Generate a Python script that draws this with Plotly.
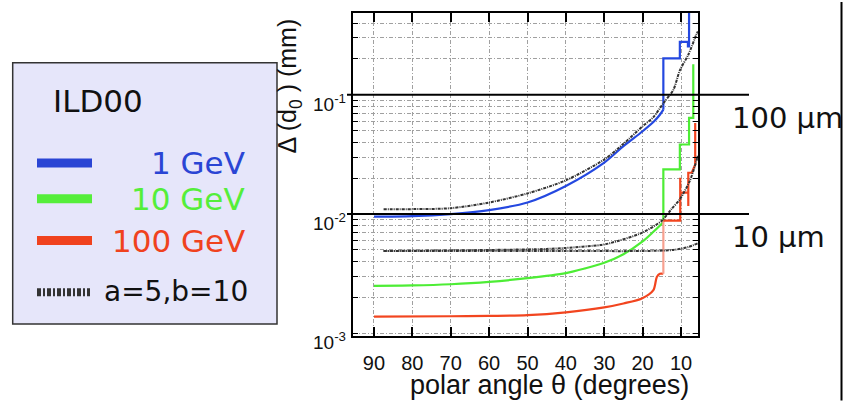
import plotly.graph_objects as go

# ---- data: impact-parameter resolution vs polar angle (ILD00) ----
blue_theta = [90, 80, 70, 60, 50, 40, 30, 25, 20, 17.0, 15.5, 14.6, 14.6, 10.3, 10.3, 8.2, 8.2, 7.9, 7.9]
blue_d0 = [0.0095, 0.0096, 0.0100, 0.0108, 0.0125, 0.0172, 0.0270, 0.0371, 0.0495, 0.060, 0.068, 0.075,
           0.202, 0.202, 0.278, 0.278, 0.255, 0.255, 0.6]
blue_knee = 11

green_theta = [90, 80, 70, 60, 50, 40, 35, 30, 25, 20, 17.2, 15.0, 14.6, 14.6, 10.3, 10.3,
               7.9, 7.9, 6.8, 6.8]
green_d0 = [0.0025, 0.00252, 0.00258, 0.0027, 0.0029, 0.0032, 0.0035, 0.0039, 0.0046, 0.0059,
            0.0071, 0.0083, 0.0086, 0.0237, 0.0237, 0.0383, 0.0383, 0.064, 0.064, 0.18]
green_knee = 12

red_theta = [90, 70, 60, 50, 40, 30, 25, 20.2, 17.2, 16.3, 15.5, 14.6, 14.6, 10.2, 10.2, 10.2, 8.1,
             8.1, 8.1, 7.2, 6.3, 6.3]
red_d0 = [0.00138, 0.00139, 0.0014, 0.00142, 0.0015, 0.00165, 0.00178, 0.00196, 0.0023, 0.00297,
          0.00316, 0.00316, 0.0088, 0.0088, 0.0202, 0.0151, 0.0151, 0.0117, 0.0222, 0.0222, 0.026, 0.058]
red_knee = 11

# parametrisation a=5, b=10 for 1, 10 and 100 GeV
fit1_theta = [87.5, 80, 70, 60, 50, 40, 30, 25, 20, 17.2, 14.6, 12.0, 10.3, 8.0, 6.0, 5.6]
fit1_d0 = [0.0110, 0.0110, 0.0112, 0.0125, 0.0149, 0.0192, 0.0287, 0.0388, 0.0545, 0.065, 0.085,
           0.11, 0.16, 0.22, 0.32, 0.34]
fit10_theta = [87.5, 60, 45, 40, 31, 28.5, 20, 15, 12.5, 10.3, 7.7, 6.0, 5.6]
fit10_d0 = [0.0049, 0.0050, 0.0051, 0.0052, 0.0055, 0.0057, 0.0070, 0.0088, 0.011, 0.0133, 0.019,
            0.0278, 0.031]
fit100_theta = [87.5, 60, 40, 20, 12, 8, 5.6]
fit100_d0 = [0.0049, 0.0049, 0.0049, 0.0049, 0.0050, 0.0053, 0.0057]

x_ticks = [90, 80, 70, 60, 50, 40, 30, 20, 10]
y_decades = [-3, -2, -1]
y_minor = [m * 10 ** e for e in (-3, -2, -1) for m in range(1, 10) if m * 10 ** e <= 0.5]

legend_labels = ["1 GeV", "10 GeV", "100 GeV"]
legend_colors = ["#2a45d4", "#55ee3a", "#f0421e"]
line_colors = ["#2448e0", "#4ded35", "#f2451f"]
fit_label = "a=5,b=10"
ref_levels = [-1, -2]
ref_labels = ["100 \u00b5m", "10 \u00b5m"]

X_RANGE = [95.47, 5.57]
Y_RANGE = [-3.0225, -0.314]

# ---- layout geometry (pixels) ----
W, H = 844, 401
L, R, T, B = 353, 146, 11, 65
PW, PH = W - L - R, H - T - B


def px(x):
    return (x - L) / PW


def py(y):
    return 1 - (y - T) / PH


def ylog_paper(e):
    # paper fraction of a log10 value on the y axis
    return (e - Y_RANGE[0]) / (Y_RANGE[1] - Y_RANGE[0])


SANS = "Liberation Sans"
DJV = "DejaVu Sans"

fig = go.Figure()


def add_line(x, y, color, shape="linear", width=2.2, dash=None):
    fig.add_trace(go.Scatter(x=x, y=y, mode="lines",
                             line=dict(color=color, width=width, shape=shape, dash=dash,
                                       smoothing=0.8 if shape == "spline" else None),
                             showlegend=False, hoverinfo="skip"))


# smooth part of each curve, then the stepped forward region
for th, d, k, c in [(blue_theta, blue_d0, blue_knee, line_colors[0]),
                    (green_theta, green_d0, green_knee, line_colors[1])]:
    add_line(th[:k + 1], d[:k + 1], c, "spline")
    add_line(th[k:], d[k:], c)
add_line(red_theta[:red_knee + 1], red_d0[:red_knee + 1], line_colors[2], "spline")
add_line(red_theta[red_knee:red_knee + 2], red_d0[red_knee:red_knee + 2], "#f7a08f")
add_line(red_theta[red_knee + 1:], red_d0[red_knee + 1:], line_colors[2])

for th, d in [(fit1_theta, fit1_d0), (fit10_theta, fit10_d0), (fit100_theta, fit100_d0)]:
    add_line(th, d, "#333333", "spline", 2, "3px,1px,1px,1px")

grid = dict(showgrid=True, gridcolor="#a0a0a0", gridwidth=1, griddash="4px,2px,1px,2px")
fig.update_layout(
    width=W, height=H, margin=dict(l=L, r=R, t=T, b=B),
    paper_bgcolor="white", plot_bgcolor="white", showlegend=False,
    xaxis=dict(range=X_RANGE, tickvals=x_ticks, ticktext=[str(v) for v in x_ticks],
               ticks="inside", ticklen=9, tickwidth=1.5, tickcolor="black",
               showline=True, linecolor="black", linewidth=2, mirror="ticks",
               zeroline=False, tickfont=dict(family=SANS, size=20, color="#111"),
               ticklabelstandoff=8, **grid),
    yaxis=dict(type="log", range=Y_RANGE, tickvals=y_minor,
               ticks="inside", ticklen=5, tickwidth=1, tickcolor="black",
               showline=True, linecolor="black", linewidth=2, mirror="ticks",
               showticklabels=False, zeroline=False, **grid),
    yaxis2=dict(type="log", range=Y_RANGE, overlaying="y",
                tickvals=[10 ** e for e in y_decades], ticks="inside", ticklen=11,
                tickwidth=2, tickcolor="black", mirror="ticks", showline=False,
                showgrid=False, showticklabels=False, zeroline=False),
)

# reference lines at 100 um and 10 um
for lev in ref_levels:
    fig.add_shape(type="line", xref="paper", yref="paper", x0=px(347), x1=px(749),
                  y0=ylog_paper(lev), y1=ylog_paper(lev), line=dict(color="black", width=2))
for lev, txt in zip(ref_levels, ref_labels):
    fig.add_annotation(xref="paper", yref="y", x=px(730), y=lev, yshift=-23, text=txt,
                       showarrow=False, xanchor="left", yanchor="middle",
                       font=dict(family=DJV, size=29, color="#111"))
# vertical rule at the right edge
fig.add_shape(type="line", xref="paper", yref="paper", x0=px(841.5), x1=px(841.5),
              y0=py(401), y1=py(0), line=dict(color="black", width=2))

# y tick labels (decades)
for e in y_decades:
    fig.add_annotation(xref="paper", yref="y", x=px(348), y=e, yshift=-8,
                       text=f"10<sup>{e}</sup>", showarrow=False, xanchor="right", yanchor="middle",
                       font=dict(family=SANS, size=19, color="#111"))

# axis titles
fig.add_annotation(xref="paper", yref="paper", x=px(549), y=py(385),
                   text="polar angle \u03b8 (degrees)", showarrow=False,
                   xanchor="center", yanchor="middle", font=dict(family=SANS, size=27, color="#111"))
fig.add_annotation(xref="paper", yref="paper", x=px(289), y=py(85),
                   text="\u0394 (d<sub>0</sub> ) (mm)", textangle=-90, showarrow=False,
                   xanchor="center", yanchor="middle", font=dict(family=SANS, size=25, color="#111"))

# legend panel
fig.add_shape(type="rect", xref="paper", yref="paper", x0=px(12.7), x1=px(277), y0=py(324),
              y1=py(61), fillcolor="#e6e6fa", line=dict(color="#333333", width=1.5), layer="below")
fig.add_annotation(xref="paper", yref="paper", x=px(51), y=py(100), text="ILD00",
                   showarrow=False, xanchor="left", yanchor="middle",
                   font=dict(family=DJV, size=31, color="#111"))
for yy, lab, col in zip([162, 198, 240], legend_labels, legend_colors):
    fig.add_shape(type="line", xref="paper", yref="paper", x0=px(37), x1=px(92),
                  y0=py(yy), y1=py(yy), line=dict(color=col, width=9))
    fig.add_annotation(xref="paper", yref="paper", x=px(247), y=py(yy), text=lab,
                       showarrow=False, xanchor="right", yanchor="middle",
                       font=dict(family=DJV, size=31, color=col))
fig.add_shape(type="line", xref="paper", yref="paper", x0=px(37), x1=px(90), y0=py(292),
              y1=py(292), line=dict(color="#333333", width=8, dash="4px,2px,2px,2px"))
fig.add_annotation(xref="paper", yref="paper", x=px(102), y=py(291), text=fit_label,
                   showarrow=False, xanchor="left", yanchor="middle",
                   font=dict(family=DJV, size=28, color="#111"))

fig.write_html("out.html")
